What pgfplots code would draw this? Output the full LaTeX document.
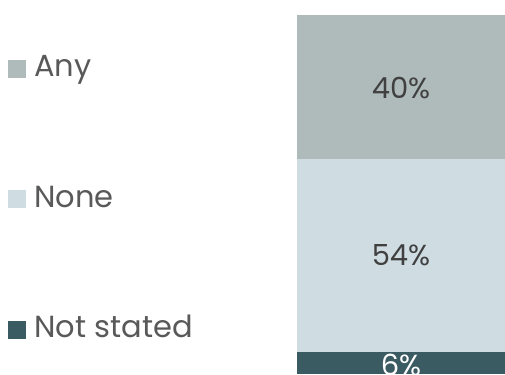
\documentclass[border=0pt]{standalone}
\usepackage{pgfplots}
\pgfplotsset{compat=1.18}
\usepackage{fontspec}
\setmainfont{Poppins}
\definecolor{cAny}{HTML}{AEBBBA}
\definecolor{cNone}{HTML}{CFDDE2}
\definecolor{cNS}{HTML}{3B5B63}
\definecolor{legtext}{HTML}{595959}
\definecolor{labtext}{HTML}{404040}
\begin{document}
\begin{tikzpicture}
\useasboundingbox (0,0) rectangle (505bp,375bp);
\begin{axis}[
  at={(0,0)}, anchor=south west,
  scale only axis, width=505bp, height=375bp,
  hide axis,
  xmin=0, xmax=505, ymin=-0.28, ymax=104.18,
  ybar stacked, bar width=208bp,
  /pgf/number format/assume math mode=true,
  nodes near coords={\pgfmathprintnumber{\pgfplotspointmeta}\%},
  every node near coord/.append style={anchor=center, font=\fontsize{29bp}{32bp}\selectfont, text=labtext},
  reverse legend,
  legend image code/.code={\fill[#1,draw=none] (0bp,-8bp) rectangle (18bp,10bp);},
  legend cell align=left,
  legend style={at={(8/505,{1-56.5/375})}, anchor=north west, draw=none, fill=none,
    inner sep=0pt, row sep=104.5bp, column sep=8bp,
    font=\fontsize{30.5bp}{33bp}\selectfont, text=legtext,
    nodes={inner sep=0pt, text height=20bp, text depth=6bp}},
]
\addplot[fill=cNS, draw=none, every node near coord/.append style={yshift=-2bp, text=white}] coordinates {(401,6)};
\addlegendentry{Not stated}
\addplot[fill=cNone, draw=none] coordinates {(401,54)};
\addlegendentry{None}
\addplot[fill=cAny, draw=none, every node near coord/.append style={yshift=-1.5bp}] coordinates {(401,40)};
\addlegendentry{Any}
\end{axis}
\end{tikzpicture}
\end{document}
